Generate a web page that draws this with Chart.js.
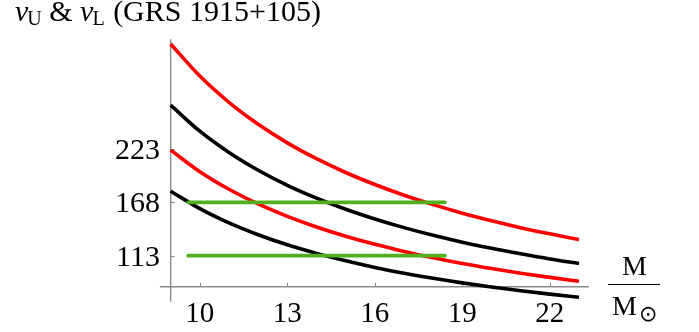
<!DOCTYPE html>
<html>
<head>
<meta charset="utf-8">
<script src="https://cdn.jsdelivr.net/npm/chart.js@4/dist/chart.umd.min.js"></script>
<style>
  html, body { margin: 0; padding: 0; background: #fff; }
  canvas { display: block; }
</style>
</head>
<body>
<canvas id="c" width="699" height="332"></canvas>
<script>
// Black hole mass in solar masses
const masses = [9, 10, 11, 12, 13, 14, 15, 16, 17, 18, 19, 20, 21, 22, 23];

// Upper (3:2) and lower resonance frequencies, Hz, for two spin cases
const upperHighSpin = [331.1, 298.0, 270.9, 248.3, 229.2, 212.9, 198.7, 186.3, 175.3, 165.6, 156.8, 149.0, 141.9, 135.5, 129.6];
const upperLowSpin  = [268.0, 241.2, 219.3, 201.0, 185.5, 172.3, 160.8, 150.8, 141.9, 134.0, 126.9, 120.6, 114.9, 109.6, 104.9];
const lowerHighSpin = [221.7, 199.5, 181.4, 166.3, 153.5, 142.5, 133.0, 124.7, 117.4, 110.8, 105.0, 99.8, 95.0, 90.7, 86.7];
const lowerLowSpin  = [179.4, 161.5, 146.8, 134.6, 124.2, 115.4, 107.7, 100.9, 95.0, 89.7, 85.0, 80.8, 76.9, 73.4, 70.2];

// Observed QPO frequencies and the mass interval they are drawn over
const observedQPOs = [168, 113];
const massRange = [9.6, 18.4];

// Axis ticks
const xTicks = [10, 13, 16, 19, 22];
const yTicks = [113, 168, 223];

const toPoints = (ys) => masses.map((m, i) => ({ x: m, y: ys[i] }));
const band = (f) => massRange.map((m) => ({ x: m, y: f }));

const RED = '#ff0000', BLACK = '#000000', GREEN = '#52b01e', AXIS = '#8a8a8a';
const SERIF = '"Liberation Serif", "Times New Roman", serif';

const curve = (data, color) => ({
  data, borderColor: color, borderWidth: 3.6, pointRadius: 0,
  showLine: true, cubicInterpolationMode: 'monotone', borderCapStyle: 'butt', order: 2
});
const flat = (data) => ({
  data, borderColor: GREEN, borderWidth: 3.8, pointRadius: 0,
  showLine: true, borderCapStyle: 'round', order: 1
});

const axesPlugin = {
  id: 'mathAxes',
  beforeDatasetsDraw(chart) {
    const { ctx, scales: { x, y } } = chart;
    const x0 = x.getPixelForValue(9);
    const y0 = y.getPixelForValue(81);
    ctx.save();
    ctx.strokeStyle = AXIS;
    ctx.lineWidth = 1.4;
    ctx.beginPath();
    // horizontal axis
    ctx.moveTo(x.getPixelForValue(8.63), y0);
    ctx.lineTo(x.getPixelForValue(23.34), y0);
    // vertical axis
    ctx.moveTo(x0, y.getPixelForValue(65.5));
    ctx.lineTo(x0, y.getPixelForValue(336));
    ctx.stroke();
    ctx.lineWidth = 1;
    ctx.beginPath();
    xTicks.forEach((t) => {
      const px = Math.round(x.getPixelForValue(t)) + 0.5;
      ctx.moveTo(px, y0);
      ctx.lineTo(px, y0 - 4);
    });
    yTicks.forEach((t) => {
      const py = Math.round(y.getPixelForValue(t)) + 0.5;
      ctx.moveTo(x0, py);
      ctx.lineTo(x0 + 4, py);
    });
    ctx.stroke();
    ctx.restore();
  },
  afterDraw(chart) {
    const { ctx, scales: { x, y } } = chart;
    ctx.save();
    ctx.fillStyle = '#000';
    ctx.font = '29px ' + SERIF;
    ctx.textBaseline = 'alphabetic';
    // tick labels
    ctx.textAlign = 'center';
    xTicks.forEach((t) => ctx.fillText(String(t), x.getPixelForValue(t), 322));
    ctx.font = '30px ' + SERIF;
    ctx.textAlign = 'right';
    yTicks.forEach((t) => ctx.fillText(String(t), 160, y.getPixelForValue(t) + 10));

    // axis title: M over M_sun
    ctx.font = '28px ' + SERIF;
    ctx.textAlign = 'center';
    ctx.fillText('M', 634.5, 275);
    ctx.strokeStyle = '#000';
    ctx.lineWidth = 1.2;
    ctx.beginPath();
    ctx.moveTo(608, 284.5);
    ctx.lineTo(660, 284.5);
    ctx.stroke();
    ctx.textAlign = 'left';
    ctx.fillText('M', 612, 315);
    ctx.font = '22px "DejaVu Sans", sans-serif';
    ctx.fillText('\u2299', 639, 321);

    // title: nu_U & nu_L (GRS 1915+105), laid out left to right
    const base = 21, subBase = 25;
    const parts = [
      { t: '\u03bd', f: 'italic 30px ' + SERIF, b: base, gap: -1 },
      { t: 'U', f: '20px ' + SERIF, b: subBase, gap: 0 },
      { t: ' & ', f: '30px ' + SERIF, b: base, gap: 0 },
      { t: '\u03bd', f: 'italic 30px ' + SERIF, b: base, gap: -1 },
      { t: 'L', f: '20px ' + SERIF, b: subBase, gap: 1 },
      { t: ' (GRS 1915+105)', f: '30px ' + SERIF, b: base, gap: 0 }
    ];
    let cx = 15;
    parts.forEach((p) => {
      ctx.font = p.f;
      ctx.fillText(p.t, cx, p.b);
      cx += ctx.measureText(p.t).width + p.gap;
    });
    ctx.restore();
  }
};

new Chart(document.getElementById('c'), {
  type: 'scatter',
  data: {
    datasets: [
      flat(band(observedQPOs[0])),
      flat(band(observedQPOs[1])),
      curve(toPoints(upperHighSpin), RED),
      curve(toPoints(upperLowSpin), BLACK),
      curve(toPoints(lowerHighSpin), RED),
      curve(toPoints(lowerLowSpin), BLACK)
    ]
  },
  options: {
    responsive: false,
    animation: false,
    devicePixelRatio: 1,
    layout: { padding: { left: 159, right: 108.3, top: 35.3, bottom: 29.7 } },
    plugins: { legend: { display: false }, tooltip: { enabled: false } },
    scales: {
      x: { type: 'linear', min: 8.6, max: 23.4, display: false },
      y: { type: 'linear', min: 65, max: 340, display: false }
    }
  },
  plugins: [axesPlugin]
});
</script>
</body>
</html>
